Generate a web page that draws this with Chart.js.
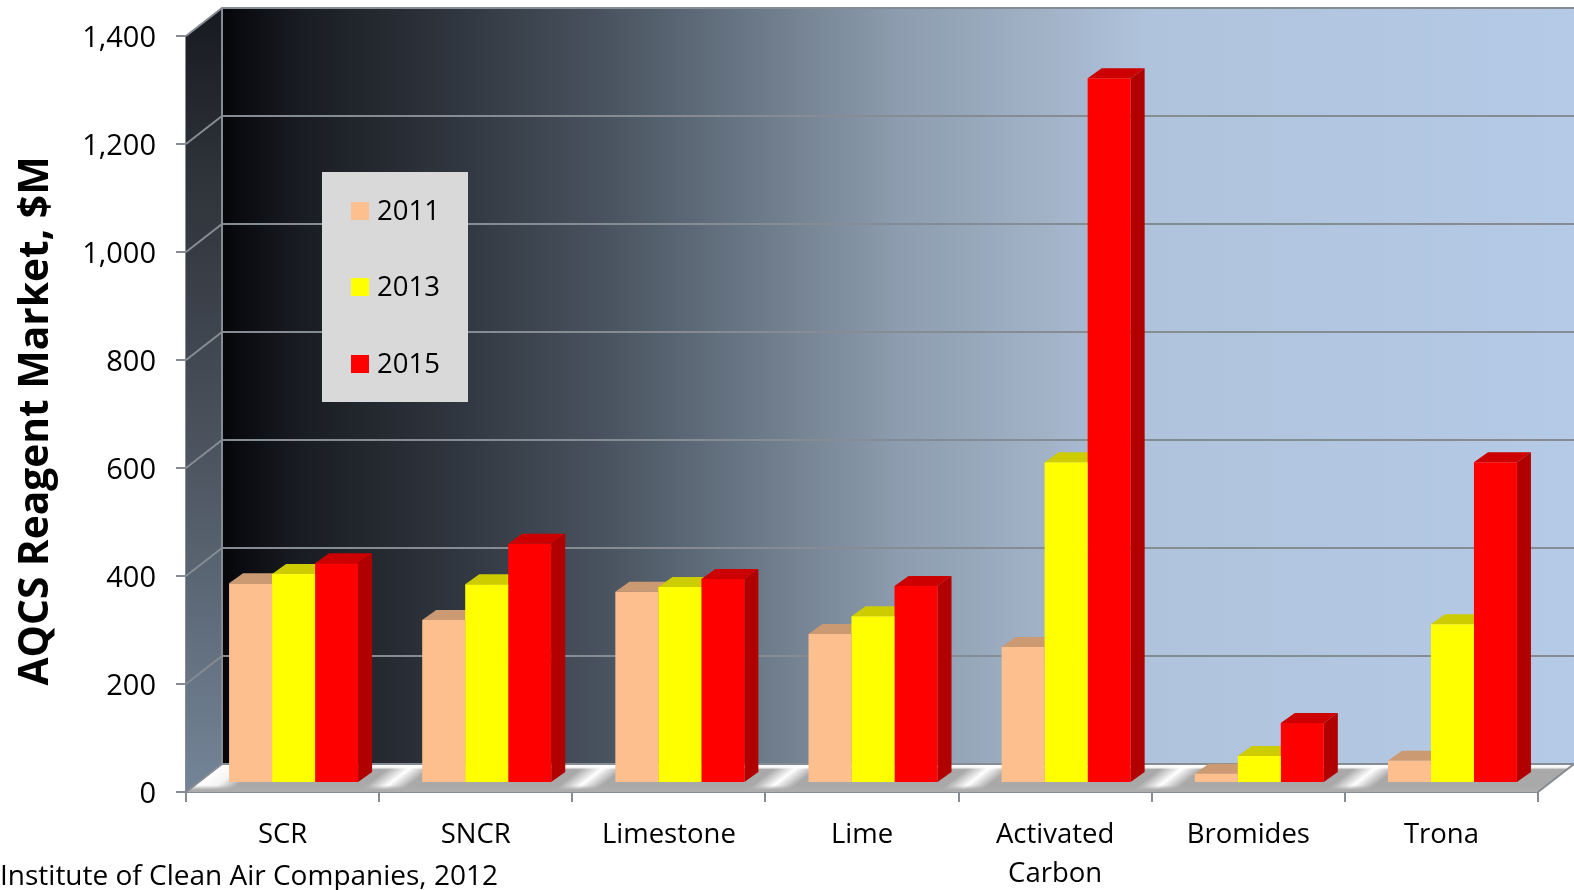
<!DOCTYPE html>
<html>
<head>
<meta charset="utf-8">
<style>
html, body { margin: 0; background: #fff; }
#chart { display: block; }
</style>
<script src="https://cdn.jsdelivr.net/npm/chart.js@4"></script>
</head>
<body>
<canvas id="chart" width="1574" height="890"></canvas>
<script>
const categories = ["SCR", "SNCR", "Limestone", "Lime", ["Activated", "Carbon"], "Bromides", "Trona"];
const years = ["2011", "2013", "2015"];
const values2011 = [370, 302, 354, 276, 252, 17, 41];
const values2013 = [387, 368, 363, 309, 594, 50, 294];
const values2015 = [407, 443, 378, 365, 1305, 111, 594];
const yTitle = "AQCS Reagent Market, $M";
const source = "Institute of Clean Air Companies, 2012";

// colours: front, top, side
const peach = ["#fdbf8e", "#cb9a72", "#b98a63"];
const yellow = ["#ffff00", "#cccc00", "#b3b300"];
const red = ["#ff0000", "#cc0000", "#b00000"];

// how far the box goes back, and how far the bars sit in from the front edge
const wallDx = 36, wallDy = 28;
const barDx = 11, barDy = 9;
const sideDx = 14, sideDy = 10;

const font = "'Open Sans', sans-serif";
const lineColor = "#858c93";

function wall3d(chart) {
    const ctx = chart.ctx;
    const a = chart.chartArea;
    const y = chart.scales.y;
    const rightEdge = a.right + wallDx;

    // back wall
    const back = ctx.createLinearGradient(a.left + wallDx, 0, rightEdge, 0);
    back.addColorStop(0, "#05060a");
    back.addColorStop(0.058, "#191c22");
    back.addColorStop(0.169, "#2f353e");
    back.addColorStop(0.28, "#48525e");
    back.addColorStop(0.405, "#6e7c8b");
    back.addColorStop(0.5, "#8d9cae");
    back.addColorStop(0.61, "#a2b3c8");
    back.addColorStop(0.686, "#afc3dc");
    back.addColorStop(1, "#b5cae6");
    ctx.fillStyle = back;
    ctx.fillRect(a.left + wallDx, a.top - wallDy, rightEdge - a.left - wallDx, a.bottom - a.top);

    // left wall
    const side = ctx.createLinearGradient(0, a.top - wallDy, 0, a.bottom);
    side.addColorStop(0, "#17191f");
    side.addColorStop(0.2, "#2d3138");
    side.addColorStop(0.58, "#4d5560");
    side.addColorStop(1, "#748598");
    ctx.fillStyle = side;
    ctx.beginPath();
    ctx.moveTo(a.left, a.top);
    ctx.lineTo(a.left + wallDx, a.top - wallDy);
    ctx.lineTo(a.left + wallDx, a.bottom - wallDy);
    ctx.lineTo(a.left, a.bottom);
    ctx.closePath();
    ctx.fill();

    // floor outline
    ctx.save();
    ctx.beginPath();
    ctx.moveTo(a.left, a.bottom);
    ctx.lineTo(a.left + wallDx, a.bottom - wallDy);
    ctx.lineTo(rightEdge, a.bottom - wallDy);
    ctx.lineTo(a.right, a.bottom);
    ctx.closePath();
    ctx.clip();

    // lit streaks sit on the category boundaries and run back along the floor
    const span = a.right - a.left;
    const step = 1 / categories.length;
    const floor = ctx.createLinearGradient(a.left, 0, a.right, 0);
    categories.forEach((c, i) => {
        const x0 = i * step;
        if (i > 0) floor.addColorStop(x0 - step * 0.11, "#a9a9a9");
        floor.addColorStop(x0, "#ffffff");
        if (i === 0) floor.addColorStop(step * 0.12, "#f4f4f4");
        floor.addColorStop(x0 + step * (i === 0 ? 0.22 : 0.11), "#a9a9a9");
    });
    floor.addColorStop(1, "#a9a9a9");
    ctx.save();
    ctx.transform(1, 0, -wallDx / wallDy, 1, a.bottom * wallDx / wallDy, 0);
    ctx.fillStyle = floor;
    ctx.fillRect(a.left - 100, a.bottom - wallDy, span + 200, wallDy);
    ctx.restore();

    // grey front strip and white back strip of the floor
    const strip = ctx.createLinearGradient(0, a.bottom - wallDy, 0, a.bottom);
    strip.addColorStop(0, "rgba(255,255,255,1)");
    strip.addColorStop(0.12, "rgba(255,255,255,0.9)");
    strip.addColorStop(0.2, "rgba(255,255,255,0)");
    strip.addColorStop(0.76, "rgba(173,173,173,0)");
    strip.addColorStop(0.92, "rgba(173,173,173,1)");
    strip.addColorStop(1, "rgba(173,173,173,1)");
    ctx.fillStyle = strip;
    ctx.fillRect(a.left, a.bottom - wallDy, rightEdge - a.left, wallDy);
    ctx.restore();

    // grid lines run along the left wall and the back wall
    ctx.strokeStyle = lineColor;
    ctx.lineWidth = 2;
    y.ticks.forEach(t => {
        const py = y.getPixelForValue(t.value);
        ctx.beginPath();
        ctx.moveTo(a.left, py);
        ctx.lineTo(a.left + wallDx, py - wallDy);
        ctx.lineTo(rightEdge, py - wallDy);
        ctx.stroke();
    });

    // back wall corner and floor edge
    ctx.beginPath();
    ctx.moveTo(a.left + wallDx, a.top - wallDy);
    ctx.lineTo(a.left + wallDx, a.bottom - wallDy);
    ctx.stroke();
    ctx.beginPath();
    ctx.moveTo(a.right, a.bottom);
    ctx.lineTo(rightEdge, a.bottom - wallDy);
    ctx.stroke();
}

function barFaces(chart) {
    const ctx = chart.ctx;
    chart.data.datasets.forEach((ds, i) => {
        chart.getDatasetMeta(i).data.forEach(bar => {
            const l = bar.x - bar.width / 2;
            const r = bar.x + bar.width / 2;
            ctx.fillStyle = ds.faces[1];
            ctx.beginPath();
            ctx.moveTo(l, bar.y);
            ctx.lineTo(l + sideDx, bar.y - sideDy);
            ctx.lineTo(r + sideDx, bar.y - sideDy);
            ctx.lineTo(r, bar.y);
            ctx.closePath();
            ctx.fill();
            ctx.fillStyle = ds.faces[2];
            ctx.beginPath();
            ctx.moveTo(r, bar.y);
            ctx.lineTo(r + sideDx, bar.y - sideDy);
            ctx.lineTo(r + sideDx, bar.base - sideDy);
            ctx.lineTo(r, bar.base);
            ctx.closePath();
            ctx.fill();
        });
    });
}

const box3d = {
    id: "box3d",
    beforeDatasetsDraw(chart) {
        const ctx = chart.ctx;
        wall3d(chart);
        ctx.save();
        ctx.translate(barDx, -barDy);
        barFaces(chart);
    },
    afterDatasetsDraw(chart) {
        chart.ctx.restore();
    },
    afterDraw(chart) {
        const ctx = chart.ctx;
        // legend box
        ctx.fillStyle = "#d9d9d9";
        ctx.fillRect(322, 172, 146, 230);
        const rows = [211, 287, 364];
        ctx.font = "27.5px " + font;
        ctx.textBaseline = "middle";
        ctx.textAlign = "left";
        chart.data.datasets.forEach((ds, i) => {
            ctx.fillStyle = ds.backgroundColor;
            ctx.fillRect(351, rows[i] - 9, 18, 18);
            ctx.fillStyle = "#000";
            ctx.fillText(ds.label, 377, rows[i] + 1);
        });
        // source note
        ctx.font = "28px " + font;
        ctx.fillStyle = "#000";
        ctx.fillText(source, 0, 877);
        // axis title, rotated
        ctx.save();
        ctx.translate(36.5, 421);
        ctx.rotate(-Math.PI / 2);
        ctx.textAlign = "center";
        ctx.font = "bold 40.7px " + font;
        ctx.fillText(yTitle, 0, 0);
        ctx.restore();
    }
};

new Chart(document.getElementById("chart"), {
    type: "bar",
    data: {
        labels: categories,
        datasets: [
            { label: years[0], data: values2011, backgroundColor: peach[0], faces: peach },
            { label: years[1], data: values2013, backgroundColor: yellow[0], faces: yellow },
            { label: years[2], data: values2015, backgroundColor: red[0], faces: red }
        ]
    },
    options: {
        responsive: false,
        animation: false,
        layout: { padding: { top: 36, right: 36, left: 0, bottom: 0 } },
        datasets: { bar: { barPercentage: 1, categoryPercentage: 0.668 } },
        plugins: { legend: { display: false }, tooltip: { enabled: false } },
        scales: {
            x: {
                afterFit(s) { s.height = 98; s.paddingLeft = 0; s.paddingRight = 0; },
                border: { color: lineColor, width: 2 },
                grid: { drawOnChartArea: false, drawTicks: true, tickLength: 10, color: lineColor, lineWidth: 2 },
                ticks: {
                    color: "#000", autoSkip: false, maxRotation: 0, padding: 14,
                    font: { family: font, size: 27.5, lineHeight: 1.4 }
                }
            },
            y: {
                min: 0,
                max: 1400,
                afterFit(s) { s.width = 186; s.paddingTop = 0; s.paddingBottom = 0; },
                border: { color: lineColor, width: 2 },
                grid: { drawOnChartArea: false, drawTicks: true, tickLength: 10, color: lineColor, lineWidth: 2 },
                ticks: {
                    stepSize: 200, color: "#000", padding: 20, labelOffset: 2.5,
                    font: { family: font, size: 29 },
                    callback: v => v.toLocaleString("en-US")
                }
            }
        }
    },
    plugins: [box3d]
});
</script>
</body>
</html>
